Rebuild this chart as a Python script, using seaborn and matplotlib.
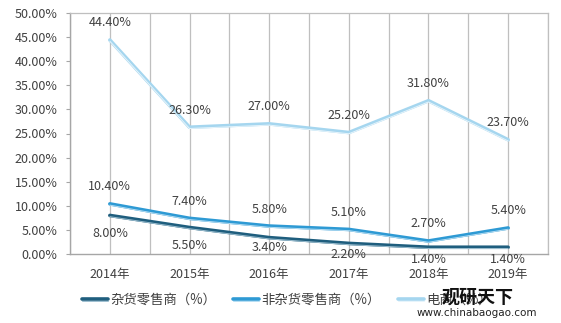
import numpy as np
import pandas as pd
import seaborn as sns
import matplotlib
matplotlib.use("Agg")
import matplotlib.pyplot as plt
import matplotlib.patheffects as pe
from matplotlib.lines import Line2D

years = ["2014年", "2015年", "2016年", "2017年", "2018年", "2019年"]
series_names = ["杂货零售商（%）", "非杂货零售商（%）", "电商（%）"]
grocery = [8.0, 5.5, 3.4, 2.2, 1.4, 1.4]
non_grocery = [10.4, 7.4, 5.8, 5.1, 2.7, 5.4]
ecommerce = [44.4, 26.3, 27.0, 25.2, 31.8, 23.7]
y_ticks = [0, 5, 10, 15, 20, 25, 30, 35, 40, 45, 50]

colors = ["#1F5E7E", "#2E9AD4", "#A5D6EF"]
inner = ["#9DBFD0", "#B5DDF3", "#E6F4FB"]

rows = []
for name, vals in zip(series_names, [grocery, non_grocery, ecommerce]):
    for i, (yr, v) in enumerate(zip(years, vals)):
        rows.append({"pos": i, "year": yr, "value": v, "series": name})
df = pd.DataFrame(rows)

sns.set_theme(style="white")
plt.rcParams["font.family"] = ["Noto Sans CJK SC", "DejaVu Sans"]
TXT = "#404040"

fig = plt.figure(figsize=(5.61, 3.23), dpi=100)
ax = fig.add_axes([70/561, 1 - 254/323, (548-70)/561, (254-13)/323])

sns.lineplot(data=df, x="pos", y="value", hue="series", hue_order=series_names,
             palette=colors, linewidth=2.6, ax=ax, legend=False, zorder=3)

for line, c in zip(ax.get_lines(), inner):
    line.set_solid_capstyle("round")
    line.set_path_effects([pe.Normal(),
                           pe.Stroke(offset=(0, -0.9), linewidth=0.7, foreground=c)])

ax.set_xlim(-0.5, 5.5)
ax.set_ylim(0, 50)
ax.set_yticks(y_ticks)
ax.set_yticklabels([f"{t:.2f}%" for t in y_ticks], fontsize=9, color=TXT)
ax.set_xticks(range(len(years)))
ax.set_xticklabels(years, fontsize=9, color=TXT)
ax.set_xlabel("")
ax.set_ylabel("")

for xg in np.arange(-0.5, 5.51, 0.5):
    ax.axvline(xg, color="#BFBFBF", linewidth=0.9, zorder=1)

for s in ["top", "right"]:
    ax.spines[s].set_color("#BFBFBF")
    ax.spines[s].set_linewidth(0.9)
for s in ["left", "bottom"]:
    ax.spines[s].set_color("#A6A6A6")
    ax.spines[s].set_linewidth(1.0)
ax.tick_params(axis="y", left=True, length=3, width=0.8, color="#A6A6A6", pad=6)
ax.tick_params(axis="x", bottom=False, pad=4)

# data labels
above_px = 17
for vals in [non_grocery, ecommerce]:
    for i, v in enumerate(vals):
        ax.annotate(f"{v:.2f}%", (i, v), xytext=(0, above_px * 0.72), textcoords="offset points",
                    ha="center", va="center", fontsize=9, color=TXT, zorder=5)
below_px = [18, 18, 10, 11, 12, 12]
for i, v in enumerate(grocery):
    ax.annotate(f"{v:.2f}%", (i, v), xytext=(0, -below_px[i] * 0.72), textcoords="offset points",
                ha="center", va="center", fontsize=9, color=TXT, zorder=5, annotation_clip=False)

# legend
handles = []
for c, ic in zip(colors, inner):
    h = Line2D([0], [0], color=c, linewidth=2.6, solid_capstyle="round")
    h.set_path_effects([pe.Normal(), pe.Stroke(offset=(0, -0.9), linewidth=0.7, foreground=ic)])
    handles.append(h)
fig.legend(handles, series_names, loc="center left", bbox_to_anchor=(70/561, 1 - 300/323),
           ncol=3, frameon=False, fontsize=9.6, handlelength=1.95, handletextpad=0.15,
           columnspacing=1.3, labelcolor=TXT)

# watermark
fig.text(478/561, 1 - 297/323, "观研天下", ha="center", va="center", fontsize=13,
         fontweight="bold", color="#111111", zorder=10)
fig.text(477/561, 1 - 313/323, "www.chinabaogao.com", ha="center", va="center",
         fontsize=7.5, color="#222222", family=["DejaVu Sans"], zorder=10)

fig.savefig("out.png", dpi=100)
